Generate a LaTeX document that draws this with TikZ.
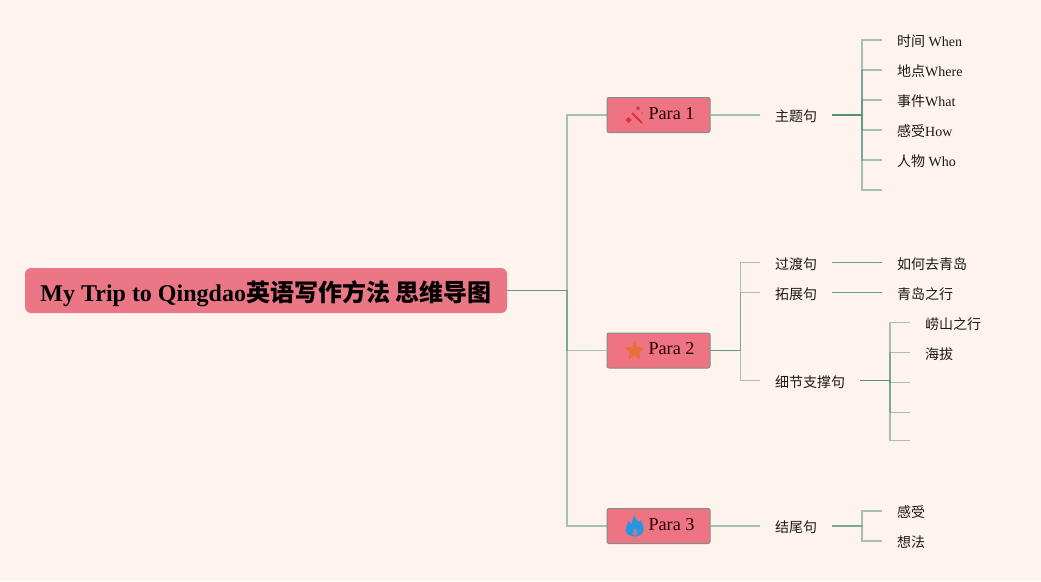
\documentclass[tikz,border=0pt]{standalone}
\usepackage{fontspec}
\setmainfont{Liberation Serif}
\newfontfamily\cjk{Noto Sans CJK SC}
\usetikzlibrary{shapes.geometric}
\definecolor{bg}{HTML}{FFF3EE}
\definecolor{rootfill}{HTML}{EB7686}
\definecolor{parafill}{HTML}{EE7484}
\definecolor{paraedge}{HTML}{7E8F88}
\definecolor{linkc}{HTML}{4F8F7C}
\definecolor{wandc}{HTML}{E0303A}
\definecolor{starc}{HTML}{E8703A}
\definecolor{flamec}{HTML}{2497E0}
\tikzset{
  rootbox/.style={fill=rootfill,rounded corners=6pt,minimum width=482pt,minimum height=45pt,inner sep=0pt,text height=24pt,text depth=3pt,font=\fontsize{24}{28}\selectfont\bfseries,text=black},
  parabox/.style={fill=parafill,draw=paraedge,line width=1pt,rounded corners=2pt,minimum width=103pt,minimum height=35pt,inner sep=0pt,text height=8pt,text depth=0pt,font=\fontsize{18.2}{22}\selectfont,text=black!85!red},
  topic/.style={anchor=west,inner xsep=15pt,inner ysep=0pt,text height=14pt,text depth=2pt,font=\fontsize{14}{16}\selectfont,text=black!90},
  lowtopic/.style={topic,text height=16pt},
  link/.style={draw=linkc,line width=1.3pt,draw opacity=.5},
  strong/.style={draw=linkc,line width=1.2pt,draw opacity=.85},
  icon/.style={minimum size=0pt,inner sep=0pt}
}
\begin{document}
\begin{tikzpicture}[x=1pt,y=-1pt]
\useasboundingbox (0,0) rectangle (1041,581);
\fill[bg] (0,0) rectangle (1041,581);
% main nodes
\node[rootbox] (root) at (266,290.5) {My Trip to Qingdao{\cjk 英语写作方法 思维导图}};
\node[parabox] (p1) at (658.5,115) {\hspace*{26pt}Para 1};
\node[parabox] (p2) at (658.5,350.5) {\hspace*{26pt}Para 2};
\node[parabox] (p3) at (658.5,526) {\hspace*{26pt}Para 3};
% second level
\node[topic] (zt) at (760,115) {\cjk 主题句};
\node[lowtopic] (gd) at (760,262.5) {\cjk 过渡句};
\node[lowtopic] (tz) at (760,292.5) {\cjk 拓展句};
\node[lowtopic] (xj) at (760,380.5) {\cjk 细节支撑句};
\node[topic] (jw) at (760,526) {\cjk 结尾句};
% leaves
\node[topic] (a1) at (882,40) {{\cjk 时间} When};
\node[topic] (a2) at (882,70) {{\cjk 地点}Where};
\node[topic] (a3) at (882,100) {{\cjk 事件}What};
\node[topic] (a4) at (882,130) {{\cjk 感受}How};
\node[topic] (a5) at (882,160) {{\cjk 人物} Who};
\coordinate (a6) at (882,190);
\node[lowtopic] (b1) at (882,262.5) {\cjk 如何去青岛};
\node[lowtopic] (b2) at (882,292.5) {\cjk 青岛之行};
\node[lowtopic] (c1) at (910,322.5) {\cjk 崂山之行};
\node[lowtopic] (c2) at (910,352.5) {\cjk 海拔};
\coordinate (c3) at (910,382.5);
\coordinate (c4) at (910,412.5);
\coordinate (c5) at (910,440.5);
\node[topic] (d1) at (882,511) {\cjk 感受};
\node[topic] (d2) at (882,541) {\cjk 想法};
% connectors
\foreach \t in {p1,p2,p3}
  \draw[link] (root.east) -- ++(59.8,0) |- (\t.west);
\draw[link] (p1.east) -- (zt.west);
\foreach \t in {gd,tz,xj}
  \draw[link] (p2.east) -- ++(29.7,0) |- (\t.west);
\draw[link] (p3.east) -- (jw.west);
\foreach \t in {a1,a2,a3,a4,a5}
  \draw[link] (zt.east) -- ++(29.7,0) |- (\t.west);
\draw[link] (zt.east) -- ++(29.7,0) |- (a6);
\draw[strong] (gd.east) -- (b1.west);
\draw[strong] (tz.east) -- (b2.west);
\foreach \t in {c1,c2}
  \draw[link] (xj.east) -- ++(29.7,0) |- (\t.west);
\foreach \t in {c3,c4,c5}
  \draw[link] (xj.east) -- ++(29.7,0) |- (\t);
\foreach \t in {d1,d2}
  \draw[link] (jw.east) -- ++(29.7,0) |- (\t.west);
% icons
\draw[wandc,line width=1.8pt] (632,113) -- (642,123);
\fill[wandc] (628.5,117) -- (631.5,120) -- (628.5,123) -- (625.5,120) -- cycle;
\fill[wandc] (638,106) -- (640,108.2) -- (638,110.4) -- (636,108.2) -- cycle;
\fill[wandc!50!parafill] (642,112) -- (643,113) -- (642,114) -- (641,113) -- cycle;
\node[icon,star,star points=5,star point ratio=2.2,fill=starc,draw=starc,line width=.8pt,line join=round,minimum size=19pt] (s2) at (634.5,351) {};
\fill[flamec] (634.5,515) .. controls (635,519) and (637,520) .. (638.5,522)
  .. controls (639.5,521.5) and (640,521) .. (640.5,520)
  .. controls (642.5,523) and (644,526) .. (643.5,530)
  .. controls (643,534) and (639,536.5) .. (635,536.5)
  .. controls (630,536.5) and (625.5,534) .. (625.5,529.5)
  .. controls (625.5,526) and (628,524) .. (629,521)
  .. controls (630,522.5) and (630.5,523.5) .. (631.5,524)
  .. controls (632,521) and (633,518) .. (634.5,515) -- cycle;
\fill[parafill!70!flamec] (635,528) .. controls (636,530) and (638,531.5) .. (637.5,533.5) .. controls (637,536.5) and (633,536.5) .. (632.5,533.5) .. controls (632,531.5) and (634,530) .. (635,528) -- cycle;
\end{tikzpicture}
\end{document}
